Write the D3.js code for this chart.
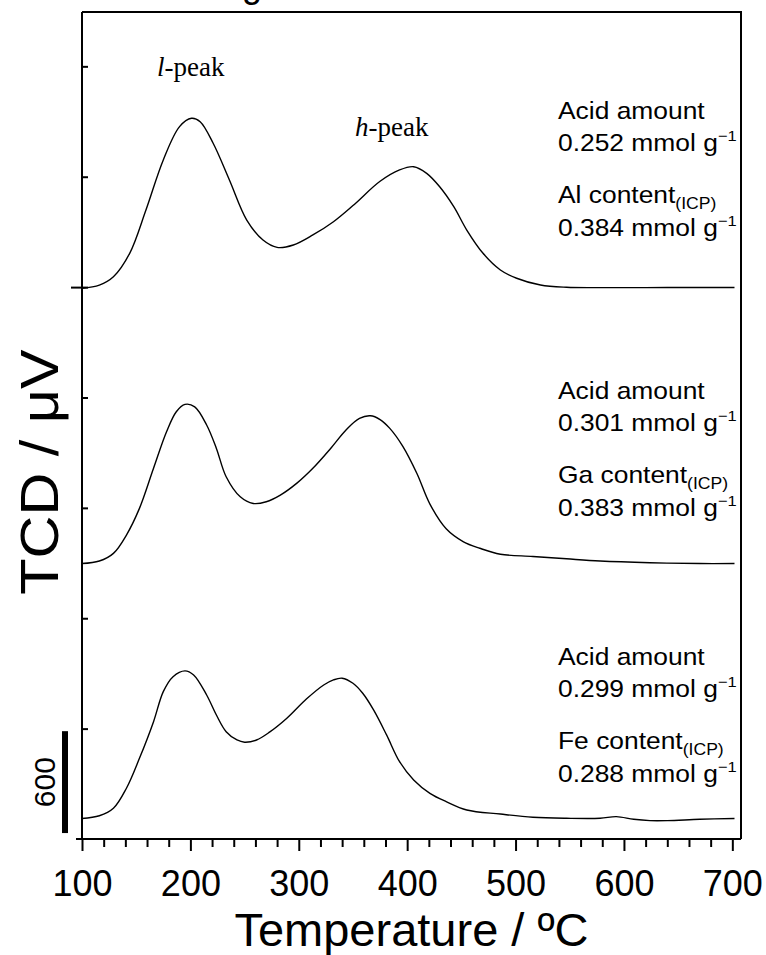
<!DOCTYPE html>
<html>
<head>
<meta charset="utf-8">
<title>TPD profiles</title>
<script src="https://d3js.org/d3.v7.min.js"></script>
<style>
  body { margin: 0; background: #fff; }
  svg { font-family: Arial, "Liberation Sans", sans-serif; }
</style>
</head>
<body>
<svg width="766" height="955"></svg>
<script>
// temperature (ºC) and TCD signal above each baseline (μV)
var alTemp   = [100, 116, 129, 144, 159, 175, 190, 201, 209, 221, 236, 252, 267, 280, 295, 313, 332, 350, 375, 393, 406, 418, 430, 443, 455, 470, 486, 501, 523, 547, 578, 620, 660, 702];
var alSignal = [0, 19, 68, 206, 461, 756, 952, 1001, 981, 854, 638, 402, 284, 241, 255, 314, 392, 487, 630, 697, 716, 677, 598, 481, 343, 206, 108, 59, 19, 6, 4, 4, 5, 5];

var gaTemp   = [100, 116, 129, 141, 153, 166, 178, 187, 195, 204, 215, 224, 233, 246, 258, 270, 283, 298, 313, 329, 344, 356, 366, 375, 384, 396, 409, 421, 436, 452, 467, 486, 516, 547, 578, 624, 670, 702];
var gaSignal = [0, 15, 60, 168, 325, 561, 776, 894, 937, 923, 816, 678, 511, 393, 354, 364, 403, 472, 561, 675, 790, 855, 870, 848, 796, 690, 530, 350, 205, 128, 90, 55, 42, 28, 15, 5, 0, 0];

var feTemp   = [100, 116, 129, 141, 153, 166, 175, 184, 195, 203, 215, 224, 233, 243, 250, 261, 273, 289, 307, 323, 332, 340, 350, 359, 369, 381, 393, 406, 421, 436, 455, 486, 516, 547, 578, 593, 609, 624, 640, 670, 702];
var feSignal = [0, 16, 60, 178, 354, 570, 747, 835, 869, 845, 727, 609, 511, 462, 449, 462, 508, 590, 703, 786, 816, 826, 796, 737, 639, 492, 334, 227, 148, 99, 50, 26, 7, 1, 1, 11, -5, -13, -13, -5, 0];

// vertical offsets of the stacked curves (μV)
var seriesOffsets = [3243, 1622, 121];

var metalNames    = ["Al", "Ga", "Fe"];
var acidAmounts   = ["0.252", "0.301", "0.299"];
var metalContents = ["0.384", "0.383", "0.288"];

var xMajorTicks = [100, 200, 300, 400, 500, 600, 700];
var xMinorTicks = d3.range(120, 701, 20).filter(function(d) { return d % 100 !== 0; });
var yTicks = [650, 1300, 1950, 2600, 3250, 3900, 4550];
var scaleBarValue = 600;

var svg = d3.select("svg");

var x = d3.scaleLinear().domain([100, 708]).range([82, 741]);
var y = d3.scaleLinear().domain([0, 4870]).range([839, 12]);

var series = [
  { temp: alTemp, sig: alSignal },
  { temp: gaTemp, sig: gaSignal },
  { temp: feTemp, sig: feSignal }
];

var line = d3.line()
  .x(function(d) { return x(d[0]); })
  .y(function(d) { return y(d[1]); })
  .curve(d3.curveCatmullRom.alpha(0.5));

series.forEach(function(s, i) {
  var pts = s.temp.map(function(t, j) { return [t, s.sig[j] + seriesOffsets[i]]; });
  svg.append("path")
    .datum(pts)
    .attr("d", line)
    .attr("fill", "none")
    .attr("stroke", "#000")
    .attr("stroke-width", 1.4);
});

// frame (top and right)
svg.append("path")
  .attr("d", "M" + x(100) + "," + y(4870) + "H" + x(708) + "V" + y(0))
  .attr("fill", "none").attr("stroke", "#000").attr("stroke-width", 2);

// x axis
var gx = svg.append("g").attr("transform", "translate(0," + y(0) + ")");
gx.call(d3.axisBottom(x).tickValues(xMinorTicks).tickSize(8).tickFormat(""));
gx.append("g").call(d3.axisBottom(x).tickValues(xMajorTicks).tickSize(12).tickFormat(d3.format("d")));
gx.selectAll("path.domain").attr("d", "M76,0H" + x(708)).attr("stroke-width", 2);
gx.selectAll("line").attr("stroke-width", 2);
gx.selectAll("text")
  .attr("font-size", 36)
  .attr("font-family", "Arial, 'Liberation Sans', sans-serif")
  .attr("y", 57).attr("dy", 0);

// y axis, ticks inside
var gy = svg.append("g").attr("transform", "translate(" + x(100) + ",0)");
gy.call(d3.axisLeft(y).tickValues(yTicks).tickSize(-6).tickFormat(""));
gy.select("path.domain").attr("d", "M0," + y(0) + "V" + y(4870)).attr("stroke-width", 2);
gy.selectAll("line").attr("stroke-width", 2);
// baseline marker of the top curve pokes out of the axis
gy.selectAll(".tick").filter(function(d) { return d === 3250; })
  .select("line").attr("x1", -11).attr("x2", 6);

// scale bar
var barBottom = 35;
svg.append("line")
  .attr("x1", 65).attr("x2", 65)
  .attr("y1", y(barBottom)).attr("y2", y(barBottom + scaleBarValue))
  .attr("stroke", "#000").attr("stroke-width", 6);
svg.append("text")
  .attr("transform", "translate(55," + y(barBottom + scaleBarValue / 2) + ") rotate(-90)")
  .attr("text-anchor", "middle")
  .attr("font-size", 30)
  .text(scaleBarValue);

// axis titles
svg.append("text")
  .attr("x", (x(100) + x(708)) / 2).attr("y", 946)
  .attr("text-anchor", "middle").attr("font-size", 47)
  .text("Temperature / ºC");
svg.append("text")
  .attr("transform", "translate(58,472) rotate(-90) scale(1.1,1)")
  .attr("text-anchor", "middle").attr("font-size", 54)
  .text("TCD / μV");

// cut-off title remnant at the very top
svg.append("text")
  .attr("x", 252).attr("y", -3)
  .attr("text-anchor", "middle").attr("font-size", 36)
  .text("g");

// peak labels
var serif = "'Times New Roman', 'Liberation Serif', serif";
var lp = svg.append("text").attr("x", 157).attr("y", 76).attr("font-size", 27).attr("font-family", serif);
lp.append("tspan").attr("font-style", "italic").text("l");
lp.append("tspan").text("-peak");
var hp = svg.append("text").attr("x", 355).attr("y", 136).attr("font-size", 27).attr("font-family", serif);
hp.append("tspan").attr("font-style", "italic").text("h");
hp.append("tspan").text("-peak");

// annotations
var annoX = 558;
var annoTop = [119, 399, 665];
var annoLines = [0, 32, 84, 117];

function annoText(yy) {
  return svg.append("text")
    .attr("transform", "translate(" + annoX + "," + yy + ") scale(1.1,1)")
    .attr("font-size", 24);
}
function mmol(t, value) {
  t.append("tspan").text(value + " mmol g");
  t.append("tspan").attr("font-size", 15).attr("dy", -10).text("\u22121");
}

metalNames.forEach(function(m, i) {
  var top = annoTop[i];
  annoText(top + annoLines[0]).text("Acid amount");
  mmol(annoText(top + annoLines[1]), acidAmounts[i]);
  var c = annoText(top + annoLines[2]);
  c.append("tspan").text(m + " content");
  c.append("tspan").attr("font-size", 16).attr("dy", 6).text("(ICP)");
  mmol(annoText(top + annoLines[3]), metalContents[i]);
});
</script>
</body>
</html>
